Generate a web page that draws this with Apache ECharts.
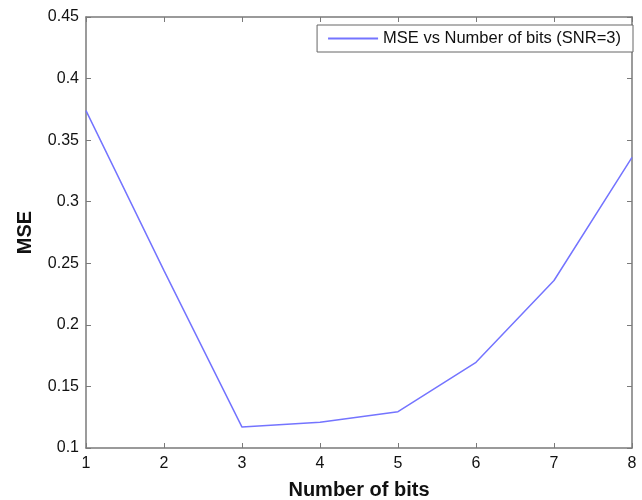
<!DOCTYPE html>
<html><head><meta charset="utf-8">
<script src="https://cdn.jsdelivr.net/npm/echarts@6/dist/echarts.min.js"></script>
<style>html,body{margin:0;padding:0;background:#fff}#c{width:642px;height:500px}</style>
</head><body><div id="c"></div>
<script>
const bits = [1, 2, 3, 4, 5, 6, 7, 8];
const mse = [0.374, 0.244, 0.117, 0.121, 0.1295, 0.1696, 0.236, 0.336];
const seriesName = 'MSE vs Number of bits (SNR=3)';
const xTitle = 'Number of bits';
const yTitle = 'MSE';

const font = 'Liberation Sans, Arial, sans-serif';
const axisCol = '#7a7a7a';
const chart = echarts.init(document.getElementById('c'));
chart.setOption({
  animation: false,
  grid: {left: 86, right: 10, top: 17, bottom: 52, containLabel: false, outerBoundsMode: 'none'},
  legend: {
    right: 9, top: 25, orient: 'vertical',
    data: [seriesName],
    itemWidth: 50, itemHeight: 2, itemGap: 4,
    icon: 'rect',
    padding: [5, 12, 5, 11],
    borderColor: '#666', borderWidth: 1, borderRadius: 0,
    backgroundColor: '#fff',
    textStyle: {fontFamily: font, fontSize: 16.5, color: '#111'}
  },
  xAxis: [{
    type: 'value', min: 1, max: 8, interval: 1,
    name: xTitle, nameLocation: 'middle', nameGap: 32,
    nameTextStyle: {fontFamily: font, fontSize: 20, fontWeight: 'bold', color: '#111'},
    axisLine: {show: true, lineStyle: {color: axisCol, width: 1.5}},
    axisTick: {show: true, inside: true, length: 5, lineStyle: {color: axisCol}},
    axisLabel: {fontFamily: font, fontSize: 16, color: '#111', margin: 8},
    splitLine: {show: false}
  }, {
    type: 'value', min: 1, max: 8, interval: 1, position: 'top',
    axisLine: {show: true, lineStyle: {color: axisCol, width: 1.5}},
    axisTick: {show: true, inside: true, length: 5, lineStyle: {color: axisCol}},
    axisLabel: {show: false}, splitLine: {show: false}
  }],
  yAxis: [{
    type: 'value', min: 0.1, max: 0.45, interval: 0.05,
    name: yTitle, nameLocation: 'middle', nameGap: 51, nameRotate: 90,
    nameTextStyle: {fontFamily: font, fontSize: 20, fontWeight: 'bold', color: '#111'},
    axisLine: {show: true, lineStyle: {color: axisCol, width: 1.5}},
    axisTick: {show: true, inside: true, length: 5, lineStyle: {color: axisCol}},
    axisLabel: {fontFamily: font, fontSize: 16, color: '#111', margin: 7,
      formatter: v => String(parseFloat(v.toFixed(2)))},
    splitLine: {show: false}
  }, {
    type: 'value', min: 0.1, max: 0.45, interval: 0.05, position: 'right',
    axisLine: {show: true, lineStyle: {color: axisCol, width: 1.5}},
    axisTick: {show: true, inside: true, length: 5, lineStyle: {color: axisCol}},
    axisLabel: {show: false}, splitLine: {show: false}
  }],
  series: [{
    name: seriesName, type: 'line',
    data: bits.map((b, i) => [b, mse[i]]),
    showSymbol: false, symbol: 'none',
    lineStyle: {color: '#7474ff', width: 1.5},
    itemStyle: {color: '#7474ff'}
  }]
});
</script></body></html>
